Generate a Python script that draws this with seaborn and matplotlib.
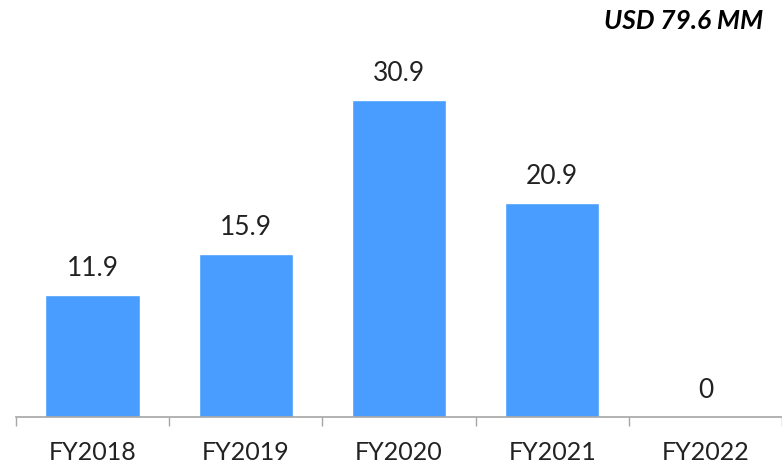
import matplotlib
matplotlib.use("Agg")
import matplotlib.pyplot as plt
import seaborn as sns
import pandas as pd

categories = ["FY2018", "FY2019", "FY2020", "FY2021", "FY2022"]
values = [11.9, 15.9, 30.9, 20.9, 0]
value_labels = ["11.9", "15.9", "30.9", "20.9", "0"]
title_text = "USD 79.6 MM"

sns.set_theme(style="white")
plt.rcParams['font.family'] = ['Lato', 'DejaVu Sans']

df = pd.DataFrame({"year": categories, "value": values})

fig = plt.figure(figsize=(7.82, 4.66), dpi=100)
ax = fig.add_axes([16/782, 49/466, 1 - 16/782, 417/466])

sns.barplot(data=df, x="year", y="value", color="#489DFF", saturation=1,
            width=0.615, ax=ax)

ax.set_ylim(0, 417 / 10.26)
ax.set_xlim(-0.5, 4.5)
ax.set_xlabel("")
ax.set_ylabel("")
ax.set_yticks([])
for s in ["top", "right", "left"]:
    ax.spines[s].set_visible(False)
ax.spines["bottom"].set_color("#A6A6A6")
ax.spines["bottom"].set_linewidth(1.2)

ax.set_xticks(range(len(categories)))
ax.set_xticklabels(categories, fontsize=18, color="#222222")
ax.tick_params(axis="x", which="major", length=0, pad=17)
ax.set_xticks([i - 0.5 for i in range(len(categories) + 1)], minor=True)
ax.tick_params(axis="x", which="minor", bottom=True, length=6.5, width=1.0,
               color="#A6A6A6", direction="out")

for i, (v, lab) in enumerate(zip(values, value_labels)):
    ax.annotate(lab, (i, v), xytext=(0, 14), textcoords="offset pixels",
                ha="center", va="bottom", fontsize=19, color="#222222")

fig.text(763/782, 1 - 21/466, title_text, ha="right", va="center",
         fontsize=19, fontweight="bold", fontstyle="italic", color="#000000")

fig.savefig("out.png", dpi=100)
